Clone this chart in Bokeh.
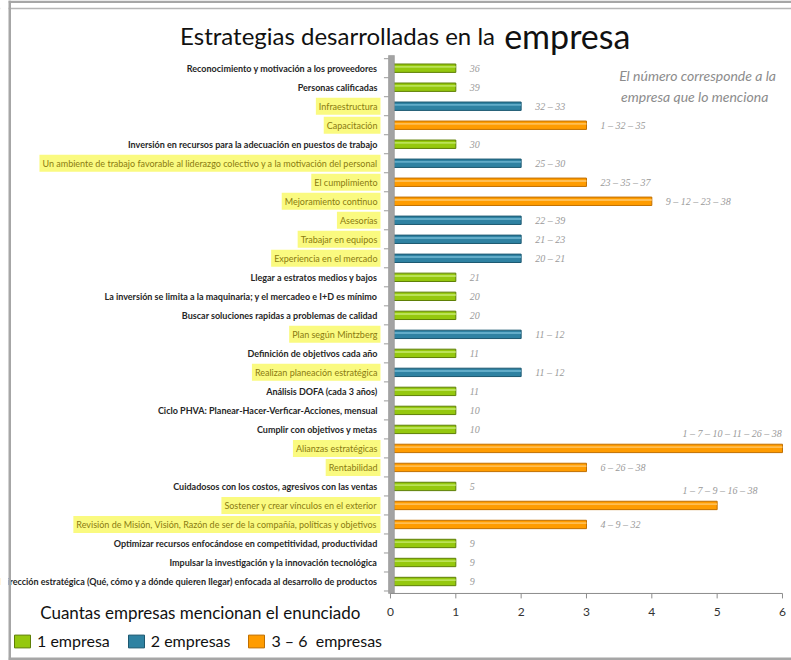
from bokeh.plotting import figure
from bokeh.models import ColumnDataSource, Range1d, Label, LabelSet, Legend, LegendItem, BoxAnnotation, Span
from bokeh.transform import dodge
from bokeh.embed import file_html
from bokeh.resources import INLINE

# ---------------- data ----------------
categories = [
    "Reconocimiento y motivación a los proveedores",
    "Personas calificadas",
    "Infraestructura",
    "Capacitación",
    "Inversión en recursos para la adecuación en puestos de trabajo",
    "Un ambiente de trabajo favorable al liderazgo colectivo y a la motivación del personal",
    "El cumplimiento",
    "Mejoramiento continuo",
    "Asesorías",
    "Trabajar en equipos",
    "Experiencia en el mercado",
    "Llegar a estratos medios y bajos",
    "La inversión se limita a la maquinaria; y el mercadeo e I+D es mínimo",
    "Buscar soluciones rapidas a problemas de calidad",
    "Plan según Mintzberg",
    "Definición de objetivos cada año",
    "Realizan planeación estratégica",
    "Análisis DOFA (cada 3 años)",
    "Ciclo PHVA: Planear-Hacer-Verficar-Acciones, mensual",
    "Cumplir con objetivos y metas",
    "Alianzas estratégicas",
    "Rentabilidad",
    "Cuidadosos con los costos, agresivos con las ventas",
    "Sostener y crear vínculos en el exterior",
    "Revisión de Misión, Visión, Razón de ser de la compañía, políticas y objetivos",
    "Optimizar recursos enfocándose en competitividad, productividad",
    "Impulsar la investigación y la innovación tecnológica",
    "Dirección estratégica (Qué, cómo y a dónde quieren llegar) enfocada al desarrollo de productos",
]
counts = [1, 1, 2, 3, 1, 2, 3, 4, 2, 2, 2, 1, 1, 1, 2, 1, 2, 1, 1, 1, 6, 3, 1, 5, 3, 1, 1, 1]
companies = [
    "36", "39", "32 – 33", "1 – 32 – 35", "30", "25 – 30", "23 – 35 – 37",
    "9 – 12 – 23 – 38", "22 – 39", "21 – 23", "20 – 21", "21", "20", "20",
    "11 – 12", "11", "11 – 12", "11", "10", "10", "1 – 7 – 10 – 11 – 26 – 38",
    "6 – 26 – 38", "5", "1 – 7 – 9 – 16 – 38", "4 – 9 – 32", "9", "9", "9",
]
x_ticks = [0, 1, 2, 3, 4, 5, 6]
x_tick_labels = ["0", "1", "2", "3", "4", "5", "6"]
legend_labels = ["1 empresa", "2 empresas", "3 – 6  empresas"]
title_main = "Estrategias desarrolladas en la"
title_emph = "empresa"
note_lines = ["El número corresponde a la", "empresa que lo menciona"]
x_title = "Cuantas empresas mencionan el enunciado"

# ---------------- styling ----------------
FONT = "Lato"
GREEN, GREEN_EDGE, GREEN_HI = "#95C80E", "#5E7F06", "#C4E86A"
BLUE, BLUE_EDGE, BLUE_HI = "#2F82A2", "#1C5870", "#6FB6D2"
ORANGE, ORANGE_EDGE, ORANGE_HI = "#FF9C00", "#C06F00", "#FFC766"
HILITE = "#FAFA80"
FRAME_GREY = "#a6a6a6"

n = len(categories)
ypos = [n - 1 - i for i in range(n)]
highlighted = [c >= 2 for c in counts]
y_lo = -0.63               # x-axis baseline (just below the last bar)
y_hi = n - 1 + 0.67        # top of the grey wall
tick_len = 0.26

p = figure(width=791, height=660, x_range=Range1d(-5.969, 6.138), y_range=Range1d(-4.156, 30.561),
           output_backend="svg", toolbar_location=None, x_axis_type=None, y_axis_type=None,
           min_border=0)
p.outline_line_color = None
p.grid.visible = False
p.background_fill_color = "white"
p.border_fill_color = "white"

def group_source(pred):
    idx = [i for i in range(n) if pred(counts[i])]
    return ColumnDataSource(dict(y=[ypos[i] for i in idx], count=[counts[i] for i in idx]))

groups = [
    (lambda c: c == 1, GREEN, GREEN_EDGE, GREEN_HI),
    (lambda c: c == 2, BLUE, BLUE_EDGE, BLUE_HI),
    (lambda c: c >= 3, ORANGE, ORANGE_EDGE, ORANGE_HI),
]
bar_renderers = []
for pred, col, edge, hi in groups:
    src = group_source(pred)
    r = p.hbar(y="y", left=0, right="count", height=0.44, source=src,
               fill_color=col, line_color=edge, line_width=1)
    p.hbar(y=dodge("y", 0.07), left=0.02, right="count", height=0.1, source=src,
           fill_color=hi, fill_alpha=0.8, line_color=None)
    bar_renderers.append(r)

# grey "wall" (vertical axis) with small boundary ticks
p.segment(x0=[-0.1] * (n + 1), x1=[-0.03] * (n + 1),
          y0=[i - 0.5 for i in range(n + 1)], y1=[i - 0.5 for i in range(n + 1)],
          line_color="#9a9a9a", line_width=1)
p.quad(left=[-0.03], right=[0.06], bottom=[y_lo], top=[y_hi],
       fill_color="#a3a3a3", line_color="#8a8a8a", line_width=0.5)

# horizontal axis drawn from the tick list
p.segment(x0=[x_ticks[0]], x1=[x_ticks[-1]], y0=[y_lo], y1=[y_lo], line_color="#8c8c8c", line_width=1)
p.segment(x0=x_ticks, x1=x_ticks, y0=[y_lo] * len(x_ticks), y1=[y_lo - tick_len] * len(x_ticks),
          line_color="#8c8c8c", line_width=1)
p.text(x=x_ticks, y=[y_lo - 1.0] * len(x_ticks), text=x_tick_labels, text_align="center",
       text_baseline="middle", text_font={"value": FONT}, text_font_size="12px", text_color="#333333")

# category labels
for yv, cat, hi in zip(ypos, categories, highlighted):
    p.add_layout(Label(x=0, y=yv, text=cat, x_offset=-10, text_align="right",
                       text_baseline="middle", text_font=FONT, text_font_size="9px",
                       text_font_style="normal" if hi else "bold",
                       text_color="#8A7A10" if hi else "#262626",
                       background_fill_color=HILITE if hi else None,
                       padding=3))

# company annotations
short_idx = [i for i in range(n) if counts[i] < 5]
long_idx = [i for i in range(n) if counts[i] >= 5]
short_src = ColumnDataSource(dict(x=[counts[i] for i in short_idx], y=[ypos[i] for i in short_idx],
                                  t=[companies[i] for i in short_idx]))
long_src = ColumnDataSource(dict(x=[4.47 for i in long_idx], y=[ypos[i] for i in long_idx],
                                 t=[companies[i] for i in long_idx]))
p.add_layout(LabelSet(x="x", y="y", text="t", source=short_src, x_offset=14,
                      text_baseline="middle", text_font=FONT, text_font_size="10px",
                      text_font_style="italic", text_color="#9a9a9a"))
p.add_layout(LabelSet(x="x", y="y", text="t", source=long_src, y_offset=15,
                      text_baseline="middle", text_font=FONT, text_font_size="10px",
                      text_font_style="italic", text_color="#9a9a9a"))

# note
p.add_layout(Label(x=3.5, y=26.6, text=note_lines[0], text_baseline="middle",
                   text_font=FONT, text_font_size="14px", text_font_style="italic",
                   text_color="#8c8c8c"))
p.add_layout(Label(x=3.53, y=25.5, text=note_lines[1], text_baseline="middle",
                   text_font=FONT, text_font_size="14px", text_font_style="italic",
                   text_color="#8c8c8c"))

# title
p.add_layout(Label(x=-3.22, y=28.72, text=title_main, text_baseline="alphabetic",
                   text_font=FONT, text_font_size="24px", text_color="#111111"))
p.add_layout(Label(x=1.74, y=28.72, text=title_emph, text_baseline="alphabetic",
                   text_font=FONT, text_font_size="34px", text_color="#111111"))

# x title
p.add_layout(Label(x=-0.46, y=y_lo - 1.0, text=x_title, text_align="right", text_baseline="middle",
                   text_font=FONT, text_font_size="17px", text_color="#111111"))

legend = Legend(items=[LegendItem(label=lab, renderers=[r]) for lab, r in zip(legend_labels, bar_renderers)],
                orientation="horizontal", location=(12, 10))
legend.label_text_font = FONT
legend.label_text_font_size = "16px"
legend.label_text_color = "#111111"
legend.glyph_width = 20
legend.glyph_height = 16
legend.spacing = 16
legend.padding = 2
legend.margin = 0
legend.border_line_color = None
legend.background_fill_alpha = 0
p.add_layout(legend)

# picture frame
p.add_layout(Span(location=652, location_units="screen", dimension="width",
                  line_color="#b5b5b5", line_width=1.5))
p.add_layout(BoxAnnotation(bottom=657.5, bottom_units="screen", left=8, left_units="screen",
                           fill_color=FRAME_GREY, fill_alpha=1, line_color=None))
p.add_layout(BoxAnnotation(top=3, top_units="screen", left=8, left_units="screen",
                           fill_color=FRAME_GREY, fill_alpha=1, line_color=None))
p.add_layout(BoxAnnotation(right=8, right_units="screen",
                           fill_color="white", fill_alpha=1, line_color=None))
p.add_layout(BoxAnnotation(left=8, right=10.5, left_units="screen", right_units="screen",
                           fill_color=FRAME_GREY, fill_alpha=1, line_color=None))

open("out.html", "w").write(file_html(p, INLINE))
